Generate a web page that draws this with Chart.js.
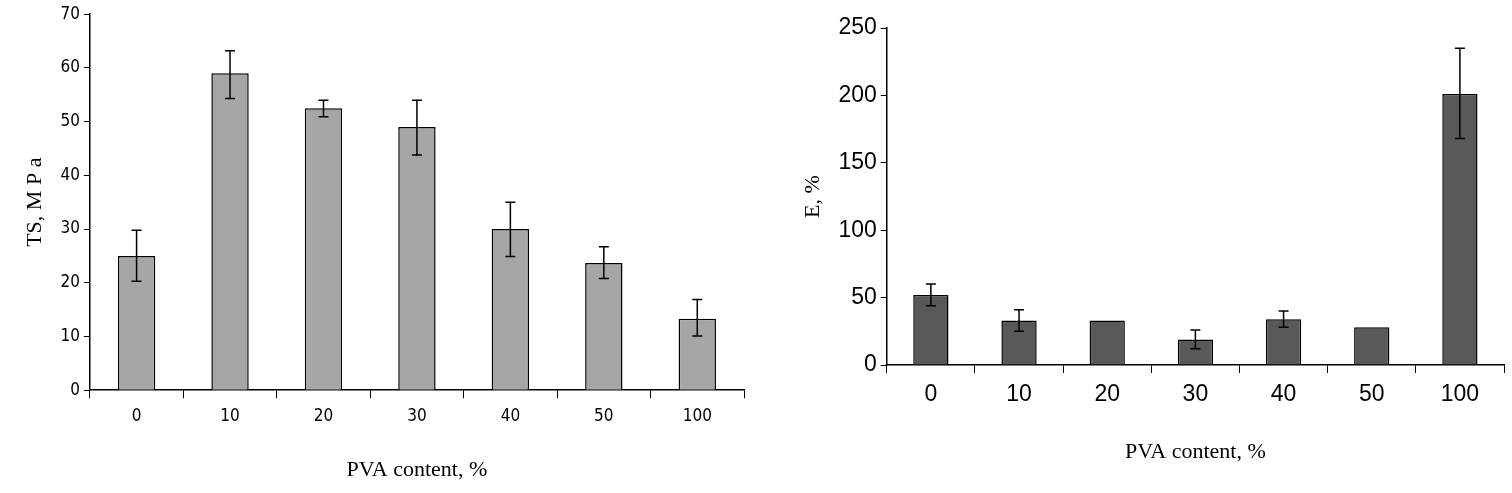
<!DOCTYPE html>
<html>
<head>
<meta charset="utf-8">
<script src="https://cdn.jsdelivr.net/npm/chart.js@4"></script>
<style>
  body { margin: 0; background: #fff; }
  .box { position: absolute; top: 0; height: 493px; }
</style>
</head>
<body>
<div class="box" style="left:0;width:756px;"><canvas id="tsChart"></canvas></div>
<div class="box" style="left:756px;width:756px;"><canvas id="eChart"></canvas></div>
<script>
const categories = ["0", "10", "20", "30", "40", "50", "100"];
const tsValues = [25, 59, 52.5, 49, 30, 23.7, 13.3];
const tsHigh = [29.8, 63.2, 54, 54, 35, 26.7, 16.9];
const tsLow = [20.3, 54.3, 50.9, 43.8, 24.9, 20.8, 10.1];
const eValues = [52, 33, 33, 19, 34, 28, 201];
const eHigh = [60, 41, null, 26, 40, null, 235];
const eLow = [44, 25, null, 12, 28, null, 168];
const tsTicks = [0, 10, 20, 30, 40, 50, 60, 70];
const eTicks = [0, 50, 100, 150, 200, 250];

const errorBars = {
  id: "errorBars",
  afterDatasetsDraw(chart, args, opts) {
    const ctx = chart.ctx;
    const meta = chart.getDatasetMeta(0);
    const y = chart.scales.y;
    ctx.save();
    ctx.strokeStyle = "#000";
    ctx.lineWidth = 1.5;
    meta.data.forEach((bar, i) => {
      if (opts.high[i] == null) return;
      const x = bar.x;
      const yh = y.getPixelForValue(opts.high[i]);
      const yl = y.getPixelForValue(opts.low[i]);
      ctx.beginPath();
      ctx.moveTo(x, yh); ctx.lineTo(x, yl);
      ctx.moveTo(x - 5, yh); ctx.lineTo(x + 5, yh);
      ctx.moveTo(x - 5, yl); ctx.lineTo(x + 5, yl);
      ctx.stroke();
    });
    ctx.restore();
  },
};

function makeChart(id, values, high, low, ticks, color, max, step, yTitle, tickFont, pad) {
  return new Chart(document.getElementById(id), {
    type: "bar",
    data: {
      labels: categories,
      datasets: [{
        data: values,
        backgroundColor: color,
        borderColor: "#000",
        borderWidth: 1.5,
        barPercentage: 0.4,
        categoryPercentage: 1,
      }],
    },
    plugins: [errorBars],
    options: {
      responsive: true,
      maintainAspectRatio: false,
      animation: false,
      layout: { padding: pad },
      plugins: {
        legend: { display: false },
        tooltip: { enabled: false },
        errorBars: { high: high, low: low },
      },
      scales: {
        x: {
          grid: { display: true, drawOnChartArea: false, offset: true, color: "#000", tickLength: 8 },
          border: { color: "#000", width: 1.5 },
          ticks: { color: "#000", font: tickFont, padding: 8 },
          title: { display: true, text: "PVA content, %", color: "#000", font: { family: "Liberation Serif", size: 22 }, padding: { top: 22 } },
        },
        y: {
          min: 0, max: max,
          afterBuildTicks: (s) => { s.ticks = ticks.map((v) => ({ value: v })); },
          grid: { display: true, drawOnChartArea: false, color: "#000", tickLength: 6 },
          border: { color: "#000", width: 1.5 },
          ticks: { color: "#000", font: tickFont, padding: 4, stepSize: step },
          title: { display: true, text: yTitle, color: "#000", font: { family: "Liberation Serif", size: 22 }, padding: { bottom: 8 } },
        },
      },
    },
  });
}

makeChart("tsChart", tsValues, tsHigh, tsLow, tsTicks, "#a6a6a6", 70, 10, "TS, M P a",
  { family: "DejaVu Sans Condensed", size: 17 }, { left: 18, right: 12, top: 12, bottom: 6 });
makeChart("eChart", eValues, eHigh, eLow, eTicks, "#595959", 250, 50, "E, %",
  { family: "Liberation Sans", size: 23 }, { left: 40, right: 8, top: 28, bottom: 24 });
</script>
</body>
</html>
